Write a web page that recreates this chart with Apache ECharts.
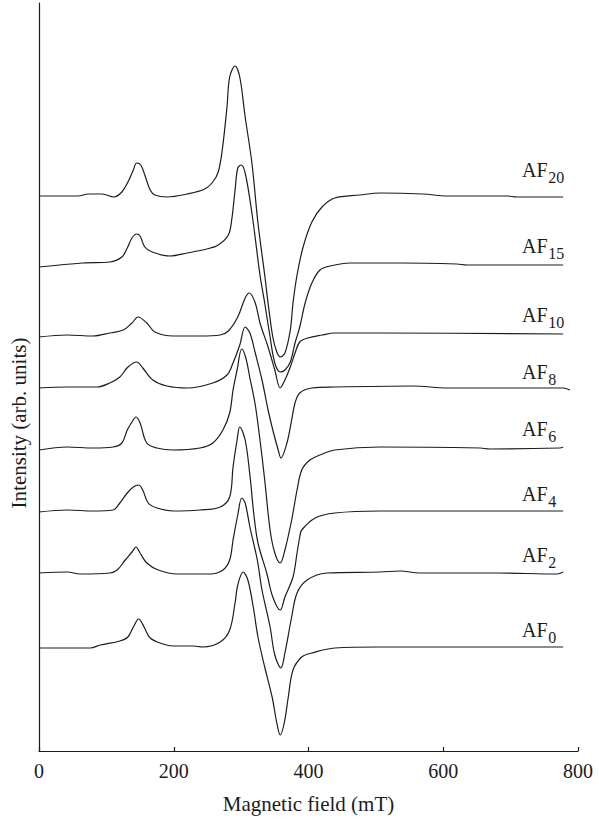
<!DOCTYPE html>
<html>
<head>
<meta charset="utf-8">
<script src="https://cdn.jsdelivr.net/npm/echarts@6/dist/echarts.min.js"></script>
<style>html,body{margin:0;padding:0;background:#fff}#c{width:599px;height:820px}</style>
</head>
<body>
<div id="c"></div>
<script>
// ---- data (field in mT, intensity in arbitrary units, traces already stacked) ----
const xTicks = [0, 200, 400, 600, 800];
const sampleMain = ['AF', 'AF', 'AF', 'AF', 'AF', 'AF', 'AF', 'AF'];
const sampleSub = ['20', '15', '10', '8', '6', '4', '2', '0'];

const AF20 = [[0,555],[58,555],[73,557],[94,557],[111,554],[123,559],[132,569],[140,581],[145,588],[151,586],[157,576],[165,561],[172,556],[190,554],[220,557],[246,562],[258,569],[266,579],[272,601],[279,644],[283,674],[291,685],[298,674],[306,634],[316,588],[325,528],[335,476],[340,448],[347,414],[353,399],[358,394],[365,398],[373,421],[377,448],[383,476],[392,504],[405,529],[420,544],[439,553],[476,556],[506,558],[570,557],[606,555],[695,555],[709,554],[778,554]];
const AF15 = [[0,484],[65,488],[105,489],[123,494],[131,503],[138,513],[145,517],[150,515],[157,504],[168,499],[194,495],[220,498],[249,502],[266,506],[281,516],[286,531],[291,561],[295,583],[300,586],[306,578],[316,538],[328,476],[335,448],[343,414],[350,388],[358,379],[365,381],[373,389],[380,408],[387,424],[395,448],[405,468],[417,481],[432,485],[462,488],[536,488],[620,487],[635,486],[778,486]];
const AF10 = [[0,414],[42,416],[80,415],[105,418],[125,421],[138,428],[147,434],[160,428],[172,419],[199,415],[239,415],[269,416],[281,420],[295,434],[306,453],[312,458],[321,448],[328,428],[340,404],[350,381],[358,363],[365,371],[373,384],[380,398],[387,409],[399,413],[420,416],[439,418],[506,418],[778,417]];
const AF8 = [[0,363],[42,364],[86,364],[105,368],[120,374],[132,384],[145,389],[154,383],[169,371],[190,365],[220,363],[258,368],[279,376],[288,388],[298,406],[306,424],[313,418],[321,398],[331,371],[340,341],[347,321],[355,301],[359,293],[368,308],[375,331],[380,348],[387,358],[405,363],[439,364],[555,365],[606,363],[778,363],[788,361]];
const AF6 = [[0,301],[42,304],[80,303],[110,304],[123,308],[131,321],[138,329],[144,334],[150,328],[160,308],[175,303],[199,301],[239,303],[258,308],[273,321],[283,338],[288,361],[294,381],[301,402],[307,393],[313,373],[321,346],[328,311],[335,271],[343,221],[350,198],[358,188],[365,201],[375,231],[383,261],[390,281],[402,291],[417,296],[439,301],[506,304],[655,303],[669,302],[773,303],[778,304]];
const AF4 = [[0,239],[42,241],[80,240],[110,241],[120,248],[131,258],[140,264],[148,266],[154,261],[162,248],[175,243],[199,240],[239,241],[269,244],[283,254],[288,284],[294,311],[298,324],[306,311],[313,276],[319,236],[325,208],[338,178],[347,154],[358,141],[365,154],[377,174],[383,198],[387,214],[390,221],[410,233],[439,238],[506,240],[778,240]];
const AF2 = [[0,178],[42,179],[61,177],[105,178],[116,181],[128,191],[138,199],[144,204],[150,198],[160,188],[177,181],[205,177],[254,177],[273,181],[283,191],[288,211],[295,236],[301,253],[306,248],[313,224],[324,191],[331,161],[343,124],[350,96],[359,83],[365,98],[375,134],[383,158],[398,171],[427,178],[506,179],[536,180],[565,178],[680,178],[769,177],[778,179]];
const AF0 = [[0,103],[76,103],[91,106],[120,110],[132,114],[140,124],[148,132],[156,124],[165,113],[184,107],[199,105],[229,105],[243,104],[269,109],[283,121],[291,148],[295,166],[303,179],[310,171],[318,144],[325,114],[335,84],[346,54],[353,28],[358,16],[364,28],[370,54],[377,81],[390,94],[405,98],[439,103],[506,104],[778,104]];

const traces = [AF20, AF15, AF10, AF8, AF6, AF4, AF2, AF0];

// ---- layout / style ----
const serif = "'Liberation Serif', 'Times New Roman', serif";
const ink = '#1c1c1c';
const labelXmT = 717;                       // left edge of the sample labels (mT)
const labelLift = [20, 12, 12, 11, 11, 10, 10, 10]; // px above line end

const chart = echarts.init(document.getElementById('c'), null, {renderer: 'svg', width: 599, height: 820});

chart.setOption({
  animation: false,
  backgroundColor: '#fff',
  grid: {left: 39, right: 21, top: 3, bottom: 69},
  xAxis: {
    type: 'value', min: xTicks[0], max: xTicks[xTicks.length - 1], interval: 200,
    axisLine: {show: true, onZero: false, lineStyle: {color: ink, width: 1.2}},
    axisTick: {show: true, inside: true, length: 4, lineStyle: {color: ink, width: 1.2}},
    axisLabel: {fontFamily: serif, fontSize: 20, color: ink, margin: 10},
    splitLine: {show: false},
    name: 'Magnetic field (mT)', nameLocation: 'middle', nameGap: 42,
    nameTextStyle: {fontFamily: serif, fontSize: 21, color: ink}
  },
  yAxis: {
    type: 'value', min: 0, max: 748,
    axisLine: {show: true, onZero: false, lineStyle: {color: ink, width: 1.2}},
    axisTick: {show: false}, axisLabel: {show: false}, splitLine: {show: false}
  },
  series: traces.map((d, i) => ({
    type: 'line', name: sampleMain[i] + sampleSub[i], data: d,
    smooth: 0.35, symbol: 'none', showSymbol: false,
    lineStyle: {color: ink, width: 1.2}
  }))
});

// ---- labels with subscripts + rotated y-axis name ----
const ctx = document.createElement('canvas').getContext('2d');
ctx.font = '20px ' + serif;
const afW = ctx.measureText('AF').width;
const lx = chart.convertToPixel({xAxisIndex: 0}, labelXmT);
const g = [];
traces.forEach((d, i) => {
  const end = chart.convertToPixel({xAxisIndex: 0, yAxisIndex: 0}, d[d.length - 1]);
  const base = end[1] - labelLift[i];
  g.push({type: 'text', x: lx, y: base - 6.7, silent: true,
    style: {text: sampleMain[i], fontFamily: serif, fontSize: 20, fill: ink, align: 'left', verticalAlign: 'middle'}});
  g.push({type: 'text', x: lx + afW + 0.5, y: base + 0.8, silent: true,
    style: {text: sampleSub[i], fontFamily: serif, fontSize: 16, fill: ink, align: 'left', verticalAlign: 'middle'}});
});
g.push({type: 'text', x: 19, y: 423, rotation: Math.PI / 2, silent: true,
  style: {text: 'Intensity (arb. units)', fontFamily: serif, fontSize: 21, fill: ink, align: 'center', verticalAlign: 'middle'}});
chart.setOption({graphic: g});
</script>
</body>
</html>
